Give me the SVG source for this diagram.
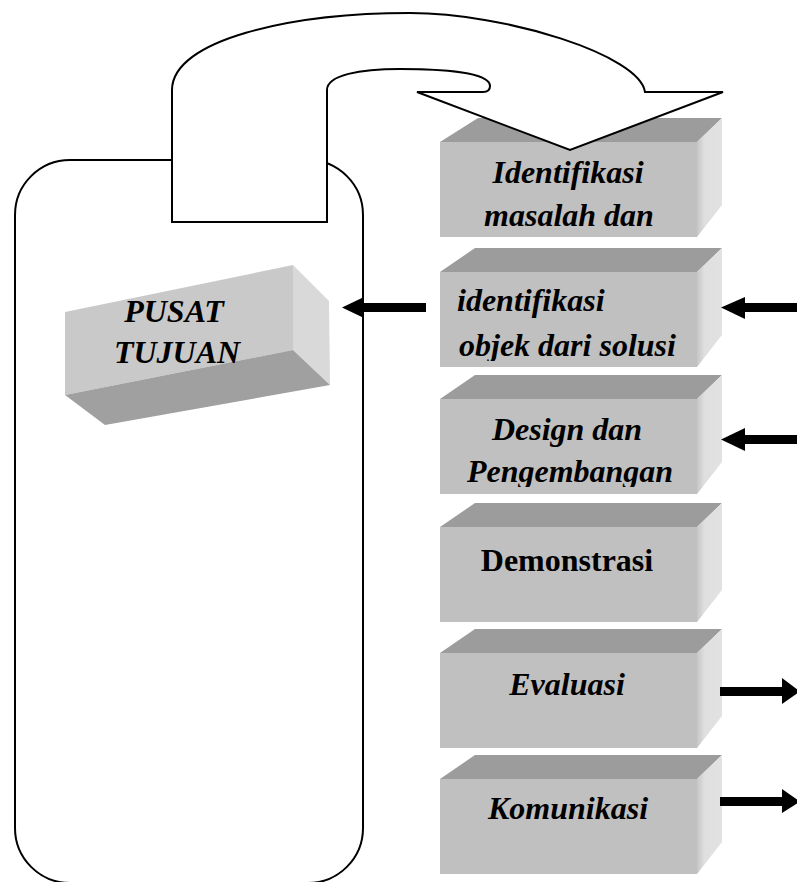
<svg xmlns="http://www.w3.org/2000/svg" width="797" height="882" viewBox="0 0 797 882">
<defs>
<style>
.ln{fill:none;stroke:#000;stroke-width:2}
.wt{fill:#fff;stroke:#000;stroke-width:2;stroke-linejoin:miter}
.top{fill:#9c9c9c}
.front{fill:#c0c0c0}
.side{fill:url(#sideGrad)}
.t{font-family:"Liberation Serif","Times New Roman",serif;font-size:32px;font-weight:bold;font-style:italic;fill:#000}
.tn{font-style:normal}
.arr{fill:#000}
</style>
<linearGradient id="sideGrad" x1="0" y1="0" x2="1" y2="0">
<stop offset="0" stop-color="#c6c6c6"/>
<stop offset="0.3" stop-color="#dfdfdf"/>
<stop offset="1" stop-color="#e2e2e2"/>
</linearGradient>
<clipPath id="c1"><rect x="440" y="142" width="257" height="90"/></clipPath>
<clipPath id="c2"><rect x="440" y="272" width="257" height="89"/></clipPath>
<clipPath id="c3"><rect x="440" y="399" width="257" height="88"/></clipPath>
<clipPath id="c4"><rect x="440" y="527" width="257" height="89"/></clipPath>
<clipPath id="c5"><rect x="440" y="653" width="257" height="89"/></clipPath>
<clipPath id="c6"><rect x="440" y="779" width="257" height="89"/></clipPath>
</defs>

<g id="pusat-container">
<rect class="ln" x="15" y="160" width="348" height="723" rx="55" ry="55"/>
</g>

<g id="pusat-tujuan">
<polygon fill="#c9c9c9" points="65,312 293,265 293,350 65,395"/>
<polygon fill="#d9d9d9" points="293,265 329,301 330,385 293,350"/>
<polygon fill="#a0a0a0" points="65,395 293,350 330,385 105,425"/>
<text class="t" x="174" y="322" text-anchor="middle">PUSAT</text>
<text class="t" x="177" y="363" text-anchor="middle">TUJUAN</text>
</g>

<g id="box1">
<polygon class="top" points="440,142 478,118 722,118 697,142"/>
<rect class="front" x="440" y="142" width="257" height="95"/>
<polygon class="side" points="697,142 722,118 722,205 697,237"/>
<g clip-path="url(#c1)">
<text class="t" x="568" y="183" text-anchor="middle">Identifikasi</text>
<text class="t" x="569" y="226" text-anchor="middle">masalah dan</text>
</g>
</g>

<g id="box2">
<polygon class="top" points="440,272 475,248 722,248 697,272"/>
<rect class="front" x="440" y="272" width="257" height="95"/>
<polygon class="side" points="697,272 722,248 722,335 697,367"/>
<g clip-path="url(#c2)">
<text class="t" x="457" y="311">identifikasi</text>
<text class="t" x="459" y="356">objek dari solusi</text>
</g>
</g>

<g id="box3">
<polygon class="top" points="440,399 475,375 722,375 697,399"/>
<rect class="front" x="440" y="399" width="257" height="95"/>
<polygon class="side" points="697,399 722,375 722,462 697,494"/>
<g clip-path="url(#c3)">
<text class="t" x="567" y="440" text-anchor="middle">Design dan</text>
<text class="t" x="570" y="482" text-anchor="middle">Pengembangan</text>
</g>
</g>

<g id="box4">
<polygon class="top" points="440,527 475,503 722,503 697,527"/>
<rect class="front" x="440" y="527" width="257" height="95"/>
<polygon class="side" points="697,527 722,503 722,590 697,622"/>
<g clip-path="url(#c4)">
<text class="t tn" x="567" y="571" text-anchor="middle">Demonstrasi</text>
</g>
</g>

<g id="box5">
<polygon class="top" points="440,653 475,629 722,629 697,653"/>
<rect class="front" x="440" y="653" width="257" height="95"/>
<polygon class="side" points="697,653 722,629 722,716 697,748"/>
<g clip-path="url(#c5)">
<text class="t" x="567" y="695" text-anchor="middle">Evaluasi</text>
</g>
</g>

<g id="box6">
<polygon class="top" points="440,779 475,755 722,755 697,779"/>
<rect class="front" x="440" y="779" width="257" height="95"/>
<polygon class="side" points="697,779 722,755 722,842 697,874"/>
<g clip-path="url(#c6)">
<text class="t" x="568" y="819" text-anchor="middle">Komunikasi</text>
</g>
</g>

<g id="curved-arrow">
<path class="wt" d="M172,222 L172,90 C172,40 290,13 410,13 C505,13 640,55 645,92 L723,92 L570,150 L417,92 L483,92 Q490,92 490,86 C490,72 440,69 400,69 C360,69 327,75 327,90 L327,222 Z"/>
</g>

<g id="connectors">
<rect class="arr" x="363" y="303" width="63" height="9"/>
<polygon class="arr" points="342,307.5 364,297 364,318"/>
<rect class="arr" x="744" y="303" width="53" height="9"/>
<polygon class="arr" points="721,307.5 745,297 745,319"/>
<rect class="arr" x="744" y="435" width="53" height="9"/>
<polygon class="arr" points="721,439.5 745,428 745,451"/>
<rect class="arr" x="720" y="687" width="63" height="9"/>
<polygon class="arr" points="800,691.5 782,678 782,704"/>
<rect class="arr" x="720" y="797" width="63" height="9"/>
<polygon class="arr" points="800,801.5 782,789 782,813"/>
</g>
</svg>
